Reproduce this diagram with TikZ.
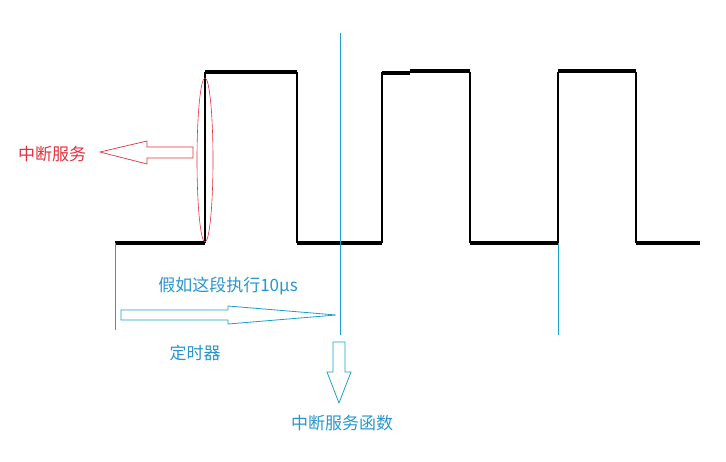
\documentclass[tikz,border=0pt]{standalone}
\usepackage{fontspec}
\newfontfamily\cjk{Noto Sans CJK SC}
\begin{document}
\begin{tikzpicture}[x=1pt,y=-1pt]
    % Define colors
    \definecolor{timecyan}{RGB}{30,160,200}
    \definecolor{textblue}{RGB}{40,150,205}
    \definecolor{irqred}{RGB}{225,50,60}

    % Styles
    \tikzset{
        level/.style={black, line width=3.5pt},
        edge/.style={black, line width=1.1pt},
        marker/.style={timecyan, line width=0.8pt},
        label/.style={font=\cjk\fontsize{17}{19}\selectfont, inner sep=1pt}
    }

    % Canvas
    \useasboundingbox (0,0) rectangle (726,462);

    % Low and high levels of the square wave
    \foreach \xa/\xb in {115/205, 297/382, 470/558, 636/700}
        \draw[level] (\xa,243) -- (\xb,243);
    \foreach \xa/\xb/\yy in {205/297/72, 382/410/73, 410/470/71, 558/636/71}
        \draw[level] (\xa,\yy) -- (\xb,\yy);

    % Rising and falling edges
    \foreach \xx in {205, 297, 382, 470, 558, 636}
        \draw[edge] (\xx,72) -- (\xx,243);

    % Cyan time markers
    \draw[marker] (115,243) -- (115,330);
    \draw[marker] (340,33) -- (340,335);
    \draw[marker] (558,243) -- (558,335);

    % Interrupt edge highlight
    \draw[irqred, line width=0.6pt] (205,160) ellipse [x radius=8, y radius=82];

    % Left block arrow
    \draw[irqred, line width=0.7pt] (193,147) -- (147,147) -- (147,141) -- (100,152)
        -- (147,164) -- (147,158) -- (193,158) -- cycle;
    \node[label, irqred] (irq) at (52,154) {中断服务};

    % Timer block arrow
    \draw[marker] (121,310) -- (228,310) -- (228,306) -- (336,315)
        -- (228,324) -- (228,320) -- (121,320) -- cycle;
    \node[label, textblue] (span) at (228,286) {假如这段执行10μs};
    \node[label, textblue] (timer) at (195,353) {定时器};

    % Down block arrow
    \draw[marker] (333,342) -- (345,342) -- (345,372) -- (351,372) -- (339,403)
        -- (327,372) -- (333,372) -- cycle;
    \node[label, textblue] (isr) at (342,423) {中断服务函数};
\end{tikzpicture}
\end{document}
